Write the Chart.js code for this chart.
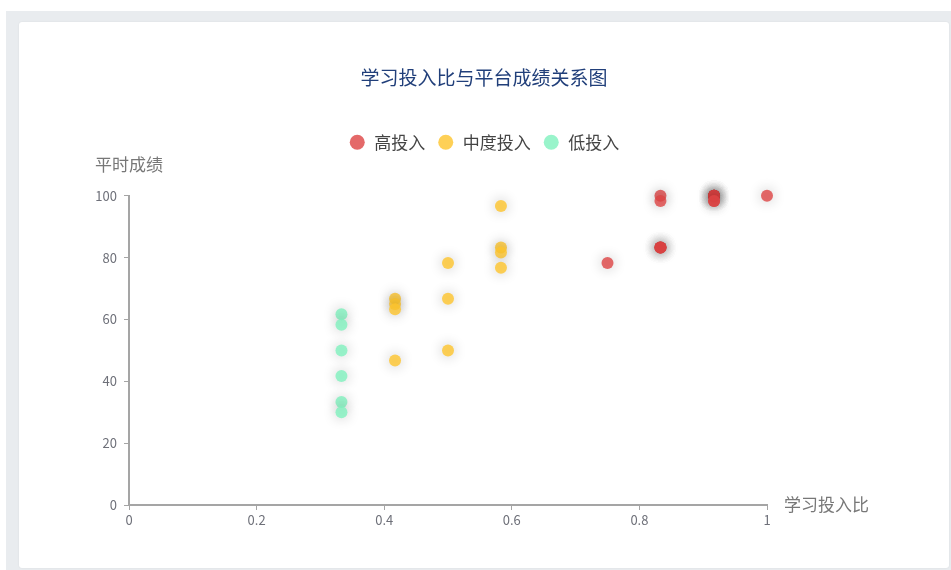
<!doctype html>
<html>
<head>
  <meta charset="utf-8">
  <title>学习投入比与平台成绩关系图</title>
  <script src="https://cdn.jsdelivr.net/npm/chart.js@4.4.1/dist/chart.umd.min.js"></script>
  <style>
    body{margin:0;background:#fff;font-family:'Microsoft YaHei','Noto Sans CJK SC',sans-serif;}
    #frame{position:absolute;left:6px;top:11px;right:0;bottom:0;background:#e9ecef;}
    #card{position:absolute;left:19px;top:22px;width:930px;height:546px;background:#fff;
          border-radius:3px;box-shadow:0 0 2px rgba(0,0,0,0.08);}
  </style>
</head>
<body>
<div id="frame"></div>
<div id="card"><canvas id="scatter" width="930" height="546"></canvas></div>

<script>
// ---- data (x = 学习投入比, y = 平时成绩) ----
const seriesNames = ['高投入', '中度投入', '低投入'];

const highX = [0.75, 0.833, 0.833, 0.833, 0.833, 0.833, 0.833,
               0.917, 0.917, 0.917, 0.917, 0.917, 0.917, 0.917, 0.917, 1];
const highY = [78.3, 100, 98.3, 83.3, 83.3, 83.3, 83.3,
               100, 100, 100, 100, 100, 100, 98.3, 98.3, 100];

const midX = [0.417, 0.417, 0.417, 0.417, 0.5, 0.5, 0.5, 0.583, 0.583, 0.583, 0.583];
const midY = [66.7, 65, 63.3, 46.7, 78.3, 66.7, 50, 96.7, 83.3, 81.7, 76.7];

const lowX = [0.333, 0.333, 0.333, 0.333, 0.333, 0.333];
const lowY = [61.7, 58.3, 50, 41.7, 33.3, 30];

const xTicks = [0, 0.2, 0.4, 0.6, 0.8, 1];
const xTickLabels = ['0', '0.2', '0.4', '0.6', '0.8', '1'];
const yTicks = [0, 20, 40, 60, 80, 100];
const yTickLabels = ['0', '20', '40', '60', '80', '100'];

const colors = ['rgba(221,68,68,0.8)', 'rgba(254,196,44,0.8)', 'rgba(128,241,190,0.8)'];

const toPoints = (xs, ys) => xs.map((x, i) => ({x, y: ys[i]}));

Chart.defaults.font.family = "'Microsoft YaHei','Noto Sans CJK SC',sans-serif";

// soft shadow under every dot (stacks up where dots overlap)
const dotShadow = {
  id: 'dotShadow',
  beforeDatasetDraw(chart) {
    const ctx = chart.ctx;
    ctx.save();
    ctx.shadowBlur = 13;
    ctx.shadowColor = 'rgba(0,0,0,0.3)';
  },
  afterDatasetDraw(chart) { chart.ctx.restore(); }
};

// title + legend centred on the whole card, gap under the legend
const header = {
  id: 'header',
  afterInit(chart) {
    const lg = chart.legend, fit = lg.fit;
    lg.fit = function () { fit.call(this); this.height += 35; };
  },
  afterLayout(chart) {
    [chart.titleBlock, chart.legend].forEach(b => { b.left = 0; b.right = chart.width; });
  }
};

// axis names like the original: y name on top of axis, x name right of it
const axisNames = {
  id: 'axisNames',
  afterDraw(chart) {
    const {ctx, chartArea: a} = chart;
    ctx.save();
    ctx.font = "17px 'Microsoft YaHei','Noto Sans CJK SC',sans-serif";
    ctx.fillStyle = '#777';
    ctx.textBaseline = 'middle';
    ctx.textAlign = 'center';
    ctx.fillText('平时成绩', a.left, a.top - 31);
    ctx.textAlign = 'left';
    ctx.fillText('学习投入比', a.right + 17, a.bottom);
    ctx.restore();
  }
};

const axisStyle = {
  grid: {drawOnChartArea: false, drawTicks: true, tickLength: 5, color: '#a5a5a5', lineWidth: 1},
  border: {display: true, color: '#a5a5a5', width: 2}
};

new Chart(document.getElementById('scatter'), {
  type: 'scatter',
  data: {
    datasets: [
      {label: seriesNames[0], data: toPoints(highX, highY)},
      {label: seriesNames[1], data: toPoints(midX, midY)},
      {label: seriesNames[2], data: toPoints(lowX, lowY)}
    ].map((d, i) => Object.assign(d, {
      backgroundColor: colors[i], borderColor: colors[i], borderWidth: 0,
      pointRadius: 6, pointHoverRadius: 6, pointBorderWidth: 0, clip: false
    }))
  },
  options: {
    responsive: false,
    animation: false,
    events: [],
    layout: {padding: {left: 0, right: 182, top: 0, bottom: 33}},
    scales: {
      x: {
        type: 'linear', min: 0, max: 1, ...axisStyle,
        afterBuildTicks: s => { s.ticks = xTicks.map(v => ({value: v})); },
        afterFit: s => { s.height = 30; },
        ticks: {padding: 2, color: '#6e7079', font: {size: 13}, maxRotation: 0,
                callback: (v, i) => xTickLabels[i]}
      },
      y: {
        type: 'linear', min: 0, max: 100, ...axisStyle,
        afterBuildTicks: s => { s.ticks = yTicks.map(v => ({value: v})); },
        afterFit: s => { s.width = 110; },
        ticks: {padding: 7, color: '#6e7079', font: {size: 13},
                callback: (v, i) => yTickLabels[i]}
      }
    },
    plugins: {
      title: {
        display: true, text: '学习投入比与平台成绩关系图', color: '#213f7a',
        font: {size: 19, weight: 'normal'}, padding: {top: 44, bottom: 33}
      },
      legend: {
        display: true,
        labels: {usePointStyle: true, pointStyle: 'circle', boxWidth: 17, boxHeight: 10.6,
                 padding: 12, color: '#444', font: {size: 17}}
      },
      tooltip: {enabled: false}
    }
  },
  plugins: [dotShadow, header, axisNames]
});
</script>
</body>
</html>
